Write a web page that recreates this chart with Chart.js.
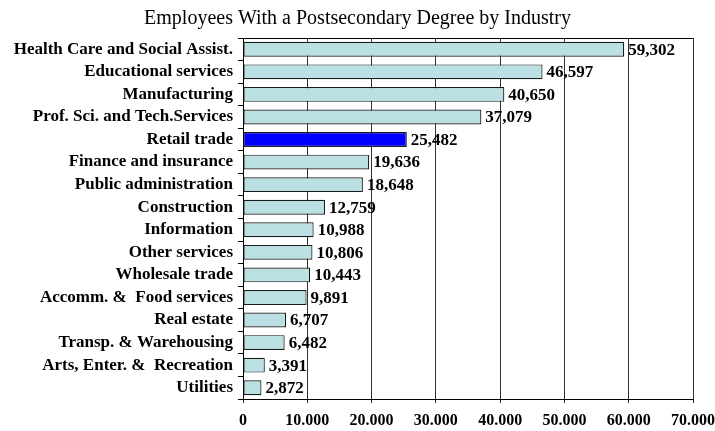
<!DOCTYPE html>
<html>
<head>
<meta charset="utf-8">
<script src="https://cdn.jsdelivr.net/npm/chart.js@4"></script>
<style>
  html, body { margin: 0; padding: 0; background: #fff; }
  #wrap { width: 715px; height: 431px; }
</style>
</head>
<body>
<div id="wrap"><canvas id="industryChart"></canvas></div>
<script>
// ---- data ----
const industries = [
    'Health Care and Social Assist.',
    'Educational services',
    'Manufacturing',
    'Prof. Sci. and Tech.Services',
    'Retail trade',
    'Finance and insurance',
    'Public administration',
    'Construction',
    'Information',
    'Other services',
    'Wholesale trade',
    'Accomm. &  Food services',
    'Real estate',
    'Transp. & Warehousing',
    'Arts, Enter. &  Recreation',
    'Utilities'
];
const employees = [59302, 46597, 40650, 37079, 25482, 19636, 18648, 12759,
                   10988, 10806, 10443, 9891, 6707, 6482, 3391, 2872];
const highlighted = ['Retail trade'];
const xTicks = [0, 10000, 20000, 30000, 40000, 50000, 60000, 70000];

const serif = '"Liberation Serif", "Times New Roman", serif';

// bar value labels + top border of the plot
const valueLabels = {
    id: 'valueLabels',
    afterDatasetsDraw(chart) {
        const ctx = chart.ctx;
        const meta = chart.getDatasetMeta(0);
        ctx.save();
        ctx.font = 'bold 17px ' + serif;
        ctx.fillStyle = '#000';
        ctx.textBaseline = 'middle';
        ctx.textAlign = 'left';
        meta.data.forEach((bar, i) => {
            ctx.fillText(employees[i].toLocaleString('en-US'), bar.x + 4, bar.y + 1);
        });
        const a = chart.chartArea;
        ctx.strokeStyle = '#000';
        ctx.lineWidth = 1;
        ctx.beginPath();
        ctx.moveTo(a.left, a.top + 0.5);
        ctx.lineTo(a.right, a.top + 0.5);
        ctx.stroke();
        ctx.restore();
    }
};

new Chart(document.getElementById('industryChart'), {
    type: 'bar',
    data: {
        labels: industries,
        datasets: [{
            data: employees,
            backgroundColor: industries.map(n => highlighted.includes(n) ? '#0000ff' : '#bae0e3'),
            borderColor: '#1a1a1a',
            borderWidth: 1.2,
            borderSkipped: false,
            categoryPercentage: 1,
            barPercentage: 0.66
        }]
    },
    options: {
        indexAxis: 'y',
        responsive: true,
        maintainAspectRatio: false,
        animation: false,
        layout: { padding: 0 },
        plugins: {
            legend: { display: false },
            tooltip: { enabled: false },
            title: {
                display: true,
                text: 'Employees With a Postsecondary Degree by Industry',
                color: '#000',
                font: { family: serif, size: 20, weight: 'normal' },
                padding: { top: 7, bottom: 7 }
            }
        },
        scales: {
            x: {
                min: 0,
                max: 70000,
                afterBuildTicks: s => { s.ticks = xTicks.map(v => ({ value: v })); },
                afterFit: s => { s.height = 32; s.paddingRight = 22; s.paddingLeft = 0; },
                grid: { color: '#333', lineWidth: 1, tickLength: 4, drawTicks: true },
                border: { color: '#000', width: 1 },
                ticks: {
                    color: '#000',
                    padding: 8,
                    maxRotation: 0,
                    font: { family: serif, size: 16, weight: 'bold' },
                    callback: v => v.toLocaleString('de-DE')
                }
            },
            y: {
                afterFit: s => { s.width = 243; },
                grid: { drawOnChartArea: false, color: '#000', tickLength: 5, offset: true },
                border: { color: '#000', width: 1 },
                ticks: {
                    color: '#000',
                    padding: 5,
                    autoSkip: false,
                    font: { family: serif, size: 17, weight: 'bold' }
                }
            }
        }
    },
    plugins: [valueLabels]
});
</script>
</body>
</html>
